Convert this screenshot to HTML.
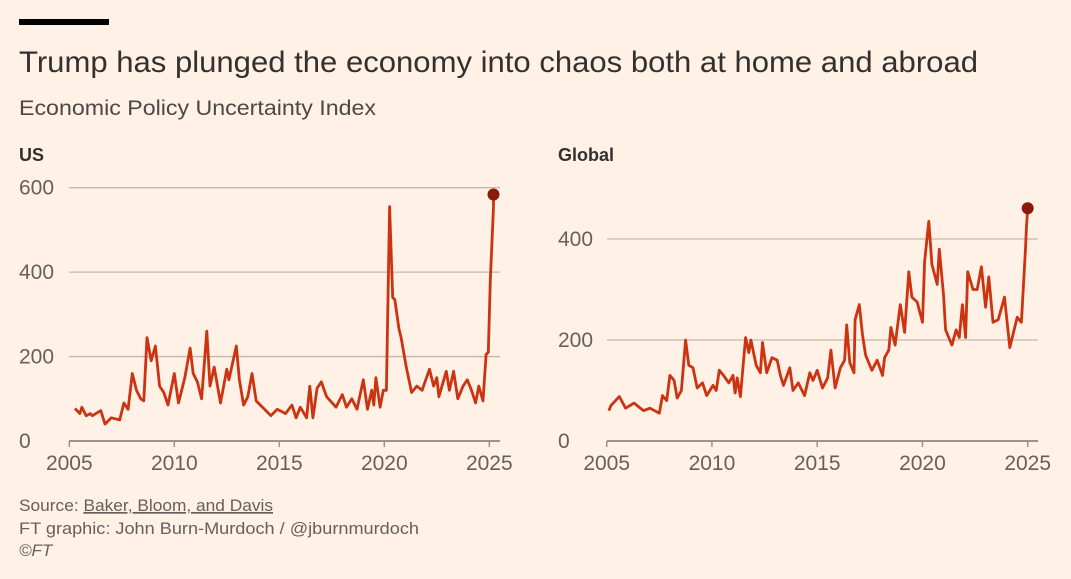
<!DOCTYPE html>
<html><head><meta charset="utf-8">
<style>
html,body{margin:0;padding:0;background:#fff1e5;}
body{width:1071px;height:574px;overflow:hidden;font-family:"Liberation Sans",sans-serif;}
svg text{font-family:"Liberation Sans",sans-serif;}
</style></head>
<body>
<svg id="chart" width="1071" height="574" viewBox="0 0 1071 574">
<rect x="19" y="19" width="90" height="6" fill="#000"/>
<text x="19" y="72" font-size="30" fill="#33302e" textLength="959" lengthAdjust="spacingAndGlyphs">Trump has plunged the economy into chaos both at home and abroad</text>
<text x="19" y="115" font-size="21.5" fill="#4d4845" textLength="357" lengthAdjust="spacingAndGlyphs">Economic Policy Uncertainty Index</text>
<text x="19" y="161" font-size="18" font-weight="bold" fill="#33302e">US</text>
<text x="558" y="161" font-size="18" font-weight="bold" fill="#33302e">Global</text>
<g id="us"></g>
<g id="gl"></g>
<text x="19" y="511" font-size="17" fill="#66605c" textLength="254" lengthAdjust="spacingAndGlyphs">Source: <tspan text-decoration="underline">Baker, Bloom, and Davis</tspan></text>
<text x="19" y="534" font-size="17" fill="#66605c" textLength="400" lengthAdjust="spacingAndGlyphs">FT graphic: John Burn-Murdoch / @jburnmurdoch</text>
<text x="19" y="556" font-size="17" font-style="italic" fill="#66605c">©FT</text>
</svg>
<script>
const xTicks = [2005, 2010, 2015, 2020, 2025];
const usYTicks = [0, 200, 400, 600];
const glYTicks = [0, 200, 400];
const usDates = [2005.27,2005.5,2005.6,2005.8,2006.0,2006.1,2006.5,2006.7,2007.0,2007.4,2007.6,2007.8,2008.0,2008.2,2008.4,2008.55,2008.7,2008.9,2009.1,2009.3,2009.5,2009.7,2010.0,2010.2,2010.5,2010.75,2010.9,2011.1,2011.3,2011.55,2011.7,2011.9,2012.2,2012.5,2012.6,2012.95,2013.1,2013.3,2013.5,2013.7,2013.9,2014.2,2014.6,2014.9,2015.3,2015.6,2015.8,2016.0,2016.3,2016.45,2016.6,2016.8,2017.0,2017.25,2017.7,2018.0,2018.2,2018.45,2018.7,2019.0,2019.2,2019.4,2019.5,2019.6,2019.8,2019.95,2020.1,2020.25,2020.4,2020.5,2020.7,2020.8,2021.05,2021.3,2021.55,2021.8,2022.15,2022.35,2022.5,2022.6,2022.95,2023.1,2023.3,2023.5,2023.75,2023.95,2024.15,2024.35,2024.5,2024.7,2024.85,2024.95,2025.05,2025.2];
const usValues = [77,65,80,60,65,60,72,40,55,50,90,75,160,120,100,95,245,190,225,130,115,85,160,90,150,220,160,140,100,260,130,175,90,170,145,225,145,85,105,160,95,80,60,75,65,85,55,80,55,130,55,125,140,105,80,110,80,100,75,145,75,120,85,150,80,120,120,555,340,335,265,245,175,115,130,120,170,130,150,105,165,120,165,100,130,145,120,90,130,95,205,210,380,555];
const usLatest = [2025.2, 584];
const glDates = [2005.1,2005.2,2005.6,2005.9,2006.3,2006.75,2007.05,2007.5,2007.65,2007.85,2008.0,2008.2,2008.35,2008.55,2008.75,2008.9,2009.1,2009.3,2009.55,2009.75,2010.05,2010.2,2010.35,2010.55,2010.8,2011.0,2011.1,2011.2,2011.35,2011.6,2011.75,2011.85,2012.1,2012.3,2012.4,2012.6,2012.85,2013.1,2013.25,2013.4,2013.7,2013.85,2014.1,2014.4,2014.65,2014.8,2015.0,2015.25,2015.5,2015.65,2015.85,2016.1,2016.3,2016.4,2016.55,2016.75,2016.8,2017.0,2017.15,2017.3,2017.6,2017.85,2018.1,2018.2,2018.4,2018.5,2018.7,2018.95,2019.15,2019.35,2019.5,2019.75,2020.0,2020.1,2020.3,2020.45,2020.7,2020.8,2021.0,2021.1,2021.4,2021.6,2021.75,2021.9,2022.05,2022.15,2022.4,2022.6,2022.8,2023.0,2023.15,2023.35,2023.6,2023.9,2024.15,2024.5,2024.7,2024.9,2024.95];
const glValues = [60,70,88,65,75,60,65,55,90,80,130,120,85,100,200,150,145,105,115,90,110,100,140,130,115,130,95,125,88,205,175,200,150,135,195,135,165,160,130,110,145,100,115,90,135,120,140,105,125,180,105,145,160,230,155,135,240,270,210,170,140,160,130,165,180,225,190,270,215,335,285,275,235,355,435,350,310,380,290,220,190,220,205,270,205,335,300,300,345,265,325,235,240,285,185,245,235,385,430];
const glLatest = [2025.0, 461];
const NS = 'http://www.w3.org/2000/svg';
function mk(parent, tag, attrs){const e=document.createElementNS(NS,tag);for(const k in attrs)e.setAttribute(k,attrs[k]);parent.appendChild(e);return e;}
function panel(gid, cfg, yTicks, dates, values, latest){
  const g=document.getElementById(gid);
  const x=d=>cfg.x0+(d-2005)*(cfg.x1-cfg.x0)/20;
  const y=v=>cfg.y0-v*cfg.pxPer;
  yTicks.forEach(t=>{
    if(t>0){const l=mk(g,'line',{x1:cfg.gl0,x2:cfg.gl1,y1:y(t),y2:y(t),stroke:'#c4b8ad','stroke-width':1.3});
      
      }
    const tx=mk(g,'text',{x:cfg.labX,y:y(t)+7,'font-size':21,fill:'#66605c'});tx.textContent=t;
    
    
  });
  const ax=mk(g,'line',{x1:cfg.gl0,x2:cfg.gl1,y1:cfg.y0,y2:cfg.y0,stroke:'#9e928a','stroke-width':2});
  
  
  xTicks.forEach(t=>{
    const tk=mk(g,'line',{x1:x(t),x2:x(t),y1:cfg.y0,y2:cfg.y0+6,stroke:'#9e928a','stroke-width':1.5});
    
    
    const tx=mk(g,'text',{x:x(t),y:cfg.y0+29,'font-size':21,fill:'#66605c','text-anchor':'middle'});tx.textContent=t;
    
    
  });
  const pts=dates.map((d,i)=>x(d).toFixed(1)+','+y(values[i]).toFixed(1)).join(' ');
  const p=mk(g,'polyline',{points:pts,fill:'none',stroke:'#cc3311','stroke-width':2.8,'stroke-linejoin':'round'});
  
  
  const lp=mk(g,'line',{x1:x(dates[dates.length-1]),y1:y(values[values.length-1]),x2:x(latest[0]),y2:y(latest[1]),stroke:'#cc3311','stroke-width':2.8});
  
  
  const c=mk(g,'circle',{cx:x(latest[0]),cy:y(latest[1]),r:6,fill:'#8b1a08'});
  
  
}
panel('us',{x0:69.3,x1:489.3,y0:441,pxPer:253.3/600,gl0:69,gl1:500,labX:19},usYTicks,usDates,usValues,usLatest);
panel('gl',{x0:606.7,x1:1027.7,y0:441,pxPer:101/200,gl0:607,gl1:1038,labX:558},glYTicks,glDates,glValues,glLatest);
</script>
</body></html>
